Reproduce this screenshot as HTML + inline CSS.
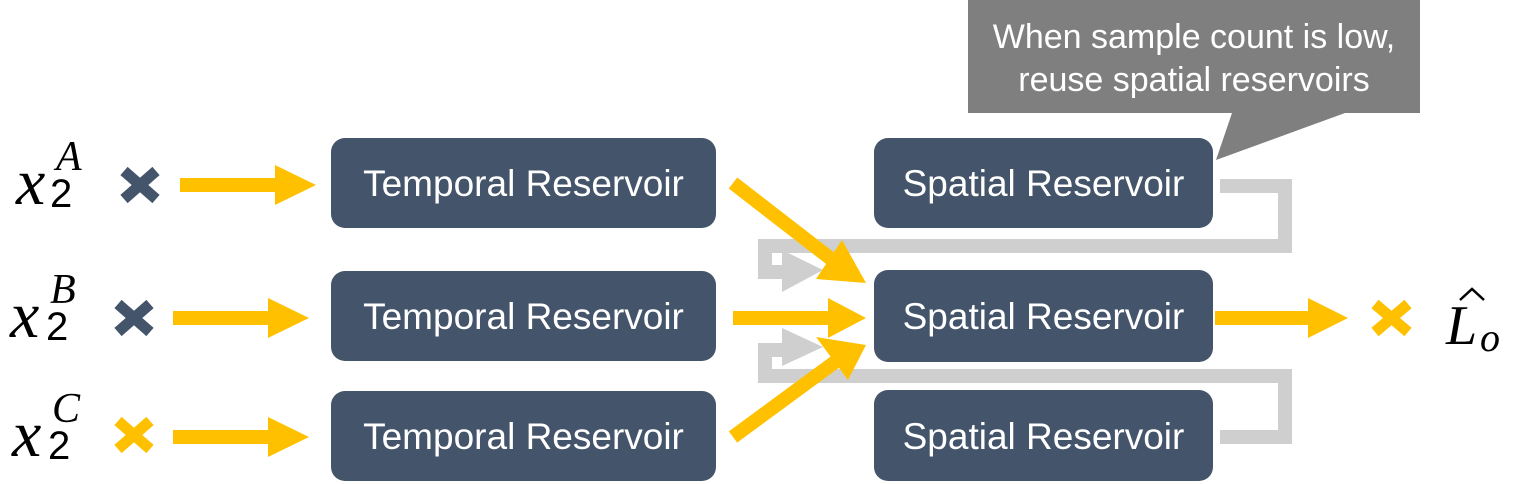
<!DOCTYPE html>
<html><head><meta charset="utf-8"><style>
body{margin:0;width:1516px;height:484px;background:#fff;overflow:hidden;position:relative;font-family:"Liberation Sans",sans-serif}
.b{position:absolute;background:#44546a;border-radius:14px;color:#fff;font-size:37px;display:flex;align-items:center;justify-content:center;padding-top:2px;box-sizing:border-box}
.m{position:absolute;font-family:"Liberation Serif",serif;font-style:italic;color:#000;line-height:1}
.d{position:absolute;font-family:"Liberation Sans",sans-serif;color:#000;line-height:1;font-size:40px}
</style></head><body>
<svg width="1516" height="484" style="position:absolute;left:0;top:0">
<polygon points="968,0 1420,0 1420,113 1345,113 1216,160 1232,113 968,113" fill="#7f7f7f"/>
<g fill="none" stroke="#d0cfcf" stroke-width="14">
<polyline points="1220,186 1285,186 1285,246 765,246 765,272 782,272"/>
<polyline points="1220,437 1285,437 1285,376 765,376 765,350 782,350"/>
</g>
<polygon points="782,250 823,270 782,292" fill="#d0cfcf"/>
<polygon points="782,328 823,347 782,366" fill="#d0cfcf"/>
<g fill="#ffc000">
<rect x="180" y="178" width="100" height="14"/><polygon points="275,165 316,185 275,205"/>
<rect x="173" y="311" width="100" height="14"/><polygon points="268,298 309,318 268,338"/>
<rect x="173" y="430" width="100" height="14"/><polygon points="268,417 309,437 268,457"/>
<rect x="733" y="311" width="100" height="14"/><polygon points="828,298 866,318 828,338"/>
<rect x="1215" y="311" width="100" height="14"/><polygon points="1308,298 1348,318 1308,338"/>
</g>
<g stroke="#ffc000" stroke-width="14">
<line x1="733" y1="183" x2="835" y2="262"/>
<line x1="733" y1="437" x2="835" y2="362"/>
</g>
<polygon points="816,279 866,283 842,240" fill="#ffc000"/>
<polygon points="816,337 866,345 848,380" fill="#ffc000"/>
<g stroke-width="11">
<g stroke="#44546a"><line x1="124" y1="171" x2="156" y2="199"/><line x1="156" y1="171" x2="124" y2="199"/>
<line x1="118" y1="304" x2="150" y2="332"/><line x1="150" y1="304" x2="118" y2="332"/></g>
<g stroke="#ffc000"><line x1="118" y1="421" x2="150" y2="449"/><line x1="150" y1="421" x2="118" y2="449"/>
<line x1="1375" y1="304" x2="1408" y2="332"/><line x1="1408" y1="304" x2="1375" y2="332"/></g>
</g>
<polyline points="1460,300 1472,289 1484,300" fill="none" stroke="#000" stroke-width="2.5"/>
</svg>
<div style="position:absolute;left:968px;top:16px;width:452px;text-align:center;color:#fff;font-size:34px;line-height:43px">When sample count is low,<br>reuse spatial reservoirs</div>
<div class="b" style="left:331px;top:138px;width:385px;height:90px">Temporal Reservoir</div>
<div class="b" style="left:331px;top:271px;width:385px;height:90px">Temporal Reservoir</div>
<div class="b" style="left:331px;top:391px;width:385px;height:90px">Temporal Reservoir</div>
<div class="b" style="left:874px;top:138px;width:339px;height:90px">Spatial Reservoir</div>
<div class="b" style="left:874px;top:270px;width:339px;height:92px">Spatial Reservoir</div>
<div class="b" style="left:874px;top:390px;width:339px;height:91px">Spatial Reservoir</div>
<div class="m" style="left:16px;top:150px;font-size:66px">x</div><div class="m" style="left:56px;top:136px;font-size:42px">A</div><div class="d" style="left:50px;top:174px">2</div>
<div class="m" style="left:10px;top:283px;font-size:66px">x</div><div class="m" style="left:50px;top:269px;font-size:42px">B</div><div class="d" style="left:46px;top:307px">2</div>
<div class="m" style="left:12px;top:402px;font-size:66px">x</div><div class="m" style="left:52px;top:388px;font-size:42px">C</div><div class="d" style="left:48px;top:426px">2</div>
<div class="m" style="left:1446px;top:298px;font-size:56px">L</div><div class="m" style="left:1480px;top:318px;font-size:40px">o</div>
</body></html>
